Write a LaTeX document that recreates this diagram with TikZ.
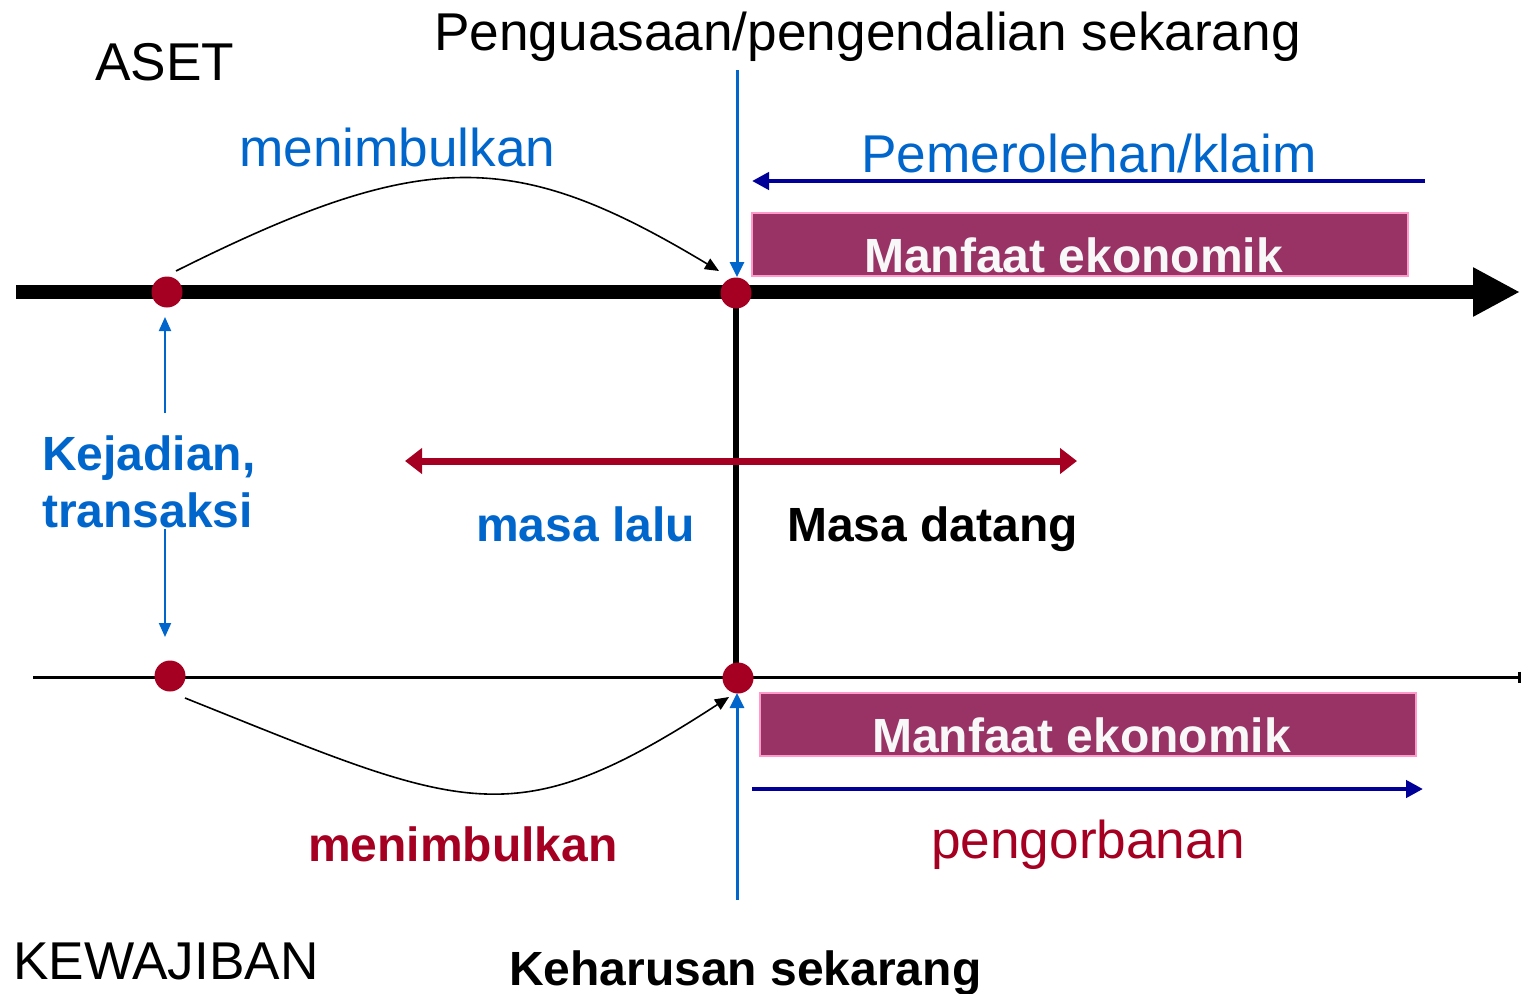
\documentclass[tikz,border=0pt]{standalone}
\usepackage{fontspec}
\setmainfont{Liberation Sans}
\usetikzlibrary{arrows.meta}
\definecolor{dotred}{HTML}{A50021}
\definecolor{txtblue}{HTML}{0066CC}
\definecolor{darkblue}{HTML}{000099}
\definecolor{boxfill}{HTML}{993366}
\definecolor{boxline}{HTML}{FF99CC}
\definecolor{boxtext}{HTML}{F8F8F8}
\begin{document}
\begin{tikzpicture}[x=1pt,y=-1pt,
  txt/.style={anchor=base west, inner sep=0pt, font=\fontsize{53.2}{60}\selectfont},
  btxt/.style={anchor=base west, inner sep=0pt, font=\fontsize{48}{56}\selectfont\bfseries},
  dot/.style={circle, fill=dotred, minimum size=31pt, inner sep=0pt},
  mbox/.style={draw=boxline, line width=2pt, fill=boxfill, minimum width=656pt, minimum height=63pt, inner sep=0pt},
  bluearrow/.style={draw=txtblue, line width=3pt, -{Triangle[length=15pt,width=14pt]}},
  dbarrow/.style={draw=darkblue, line width=4.5pt, -{Triangle[length=17pt,width=17pt]}},
  curvearrow/.style={draw=black, line width=1.6pt, -{Triangle[length=14pt,width=12pt]}}
]
\useasboundingbox (0,0) rectangle (1522,993);

% axes
\coordinate (axL) at (16,292);
\coordinate (axR) at (1520,292);
\draw[line width=14pt, -{Triangle[length=47pt,width=46pt]}] (axL) -- (axR);
\coordinate (bxL) at (33,677);
\coordinate (bxR) at (1521,677);
\draw[line width=3pt, -{Bar[width=11pt,line width=3pt]}] (bxL) -- (bxR);

% vertical black line (under the dots)
\coordinate (vtop) at (736,293);
\coordinate (vbot) at (736,678);
\draw[line width=6pt] (vtop) -- (vbot);

% boxes
\node[mbox] (box1) at (1080,244.5) {};
\node[mbox] (box2) at (1088,724.5) {};
\node[btxt, text=boxtext] (mt1) at (864,272) {Manfaat ekonomik};
\node[btxt, text=boxtext] (mt2) at (872,752) {Manfaat ekonomik};

% dots
\node[dot] (a1) at (167,292) {};
\node[dot] (a2) at (736,293) {};
\node[dot] (k1) at (170,676) {};
\node[dot] (k2) at (738,678) {};

% blue vertical arrows
\coordinate (topv) at (737,70);
\coordinate (toptip) at (737,277);
\draw[bluearrow] (topv) -- (toptip);
\coordinate (botv) at (737,900);
\coordinate (bottip) at (737,693);
\draw[bluearrow] (botv) -- (bottip);

% left blue arrows
\coordinate (lu1) at (165,413);
\coordinate (lu2) at (165,317);
\draw[bluearrow, -{Triangle[length=14pt,width=12pt]}, line width=2pt] (lu1) -- (lu2);
\coordinate (ld1) at (165,529);
\coordinate (ld2) at (165,637);
\draw[bluearrow, -{Triangle[length=14pt,width=12pt]}, line width=2pt] (ld1) -- (ld2);

% dark blue arrows
\coordinate (pa1) at (1425,181);
\coordinate (pa2) at (752,181);
\draw[dbarrow] (pa1) -- (pa2);
\coordinate (pb1) at (752,789);
\coordinate (pb2) at (1423,789);
\draw[dbarrow] (pb1) -- (pb2);

% red double arrow
\coordinate (r1) at (405,461);
\coordinate (r2) at (1077,461);
\draw[draw=dotred, line width=7pt, {Triangle[length=17pt,width=25pt]}-{Triangle[length=17pt,width=25pt]}] (r1) -- (r2);

% curves
\coordinate (c1s) at (176,271);
\coordinate (c1e) at (719,271);
\draw[curvearrow] (c1s) .. controls (426,146) and (516,149) .. (c1e);
\coordinate (c2s) at (185,698);
\coordinate (c2e) at (729,697);
\draw[curvearrow] (c2s) .. controls (465,810) and (511,839) .. (c2e);

% texts
\node[txt] (aset) at (95,80) {ASET};
\node[txt] (peng) at (434,50) {Penguasaan/pengendalian sekarang};
\node[txt, text=txtblue] (men1) at (239,166) {menimbulkan};
\node[txt, text=txtblue] (pem) at (861,172) {Pemerolehan/klaim};
\node[btxt, text=txtblue] (kej) at (42,470) {Kejadian,};
\node[btxt, text=txtblue] (tra) at (42,527) {transaksi};
\node[btxt, text=txtblue] (lalu) at (476,541) {masa lalu};
\node[btxt] (datang) at (787,541) {Masa datang};
\node[btxt, text=dotred] (men2) at (308,861) {menimbulkan};
\node[txt, text=dotred] (korban) at (931,858) {pengorbanan};
\node[txt] (kew) at (13,979) {KEWAJIBAN};
\node[btxt] (keh) at (509,985) {Keharusan sekarang};
\end{tikzpicture}
\end{document}
